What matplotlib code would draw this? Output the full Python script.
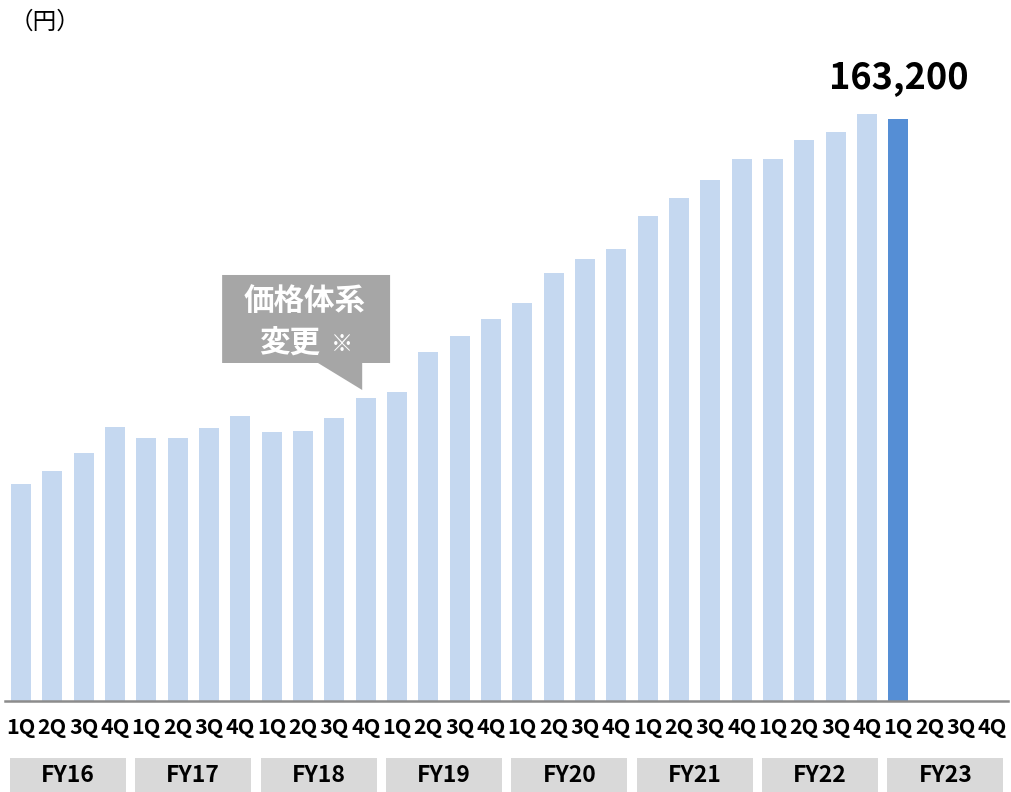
import matplotlib
matplotlib.use('Agg')
import matplotlib.pyplot as plt
from matplotlib.patches import Rectangle, Polygon
import numpy as np

plt.rcParams['font.family'] = ['Noto Sans CJK JP', 'DejaVu Sans']

# Quarterly prices (yen), FY16 1Q .. FY23 1Q
fiscal_years = ['FY16', 'FY17', 'FY18', 'FY19', 'FY20', 'FY21', 'FY22', 'FY23']
quarters = ['1Q', '2Q', '3Q', '4Q']
prices = [
    60800, 64300, 69400, 76800,
    73700, 73800, 76400, 79800,
    75400, 75600, 79400, 84800,
    86600, 97800, 102300, 107100,
    111600, 119900, 123900, 126600,
    136000, 140900, 146100, 152000,
    152000, 157300, 159600, 164600,
    163200,
]
latest_label = '163,200'

LIGHT = '#c5d8f0'
DARK = '#558ed5'
BUBBLE = '#a6a6a6'

n_slots = len(fiscal_years) * len(quarters)
x = np.arange(len(prices))
colors = [LIGHT] * (len(prices) - 1) + [DARK]

W, H = 1012, 792
fig = plt.figure(figsize=(W / 100, H / 100), dpi=100)
ax_left, ax_right, ax_base, ax_top = 5.3, 1008, 700.5, 40
ax = fig.add_axes([ax_left / W, (H - ax_base) / H,
                   (ax_right - ax_left) / W, (ax_base - ax_top) / H])

ax.bar(x, prices, width=0.64, color=colors, zorder=2)
ax.set_xlim(-0.5, n_slots - 0.5)
ax.set_ylim(0, 185370)

for side in ['top', 'right', 'left']:
    ax.spines[side].set_visible(False)
ax.spines['bottom'].set_color('#8c8c8c')
ax.spines['bottom'].set_linewidth(1.8)
ax.set_xticks([])
ax.set_yticks([])

# value label on the latest bar
ax.text(x[-1], prices[-1] + 11500, latest_label, ha='center', va='center',
        fontsize=26, fontweight='bold', color='black')

# quarter labels and fiscal-year boxes below the axis
trans = ax.get_xaxis_transform()
axh = ax_base - ax_top
for i in range(n_slots):
    ax.text(i, (ax_base - 728) / axh, quarters[i % 4], transform=trans,
            ha='center', va='center', fontsize=15.5, fontweight='bold',
            clip_on=False)
for k, fy in enumerate(fiscal_years):
    x0 = 4 * k - 0.35
    y0 = (ax_base - 792) / axh
    y1 = (ax_base - 758) / axh
    ax.add_patch(Rectangle((x0, y0), 3.7, y1 - y0, transform=trans,
                           facecolor='#d9d9d9', edgecolor='none',
                           clip_on=False))
    ax.text(4 * k + 1.5, (ax_base - 775) / axh, fy, transform=trans,
            ha='center', va='center', fontsize=16.5, fontweight='bold',
            clip_on=False)

# speech bubble pointing at the FY18 4Q bar
bubble = Polygon([(6.42, 119420), (11.78, 119420), (11.78, 94720),
                  (10.89, 94720), (10.89, 87140), (9.48, 94720),
                  (6.42, 94720)], closed=True, facecolor=BUBBLE,
                 edgecolor='none', zorder=3)
ax.add_patch(bubble)
ax.text(9.05, 112000, '価格体系', ha='center', va='center', fontsize=22,
        fontweight='bold', color='white', zorder=4)
ax.text(8.56, 100200, '変更', ha='center', va='center', fontsize=22,
        fontweight='bold', color='white', zorder=4)
ax.text(10.25, 100000, '※', ha='center', va='center', fontsize=16,
        color='white', zorder=4)

fig.text(10 / W, 1 - 22 / H, '（円）', ha='left', va='center', fontsize=17)

fig.savefig('out.png', dpi=100, facecolor='white')
